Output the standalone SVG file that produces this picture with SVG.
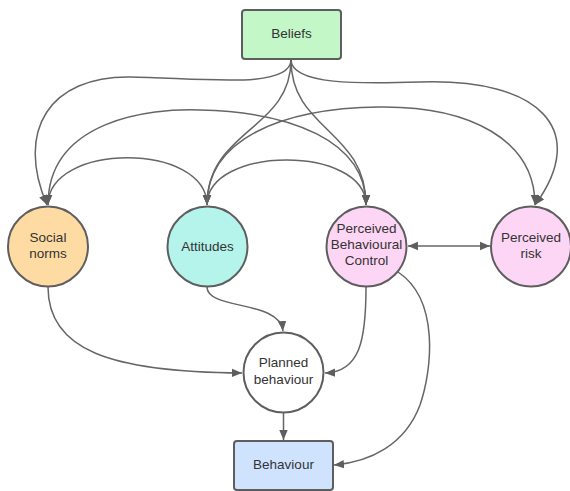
<svg xmlns="http://www.w3.org/2000/svg" width="570" height="491" viewBox="0 0 570 491">
<style>
.node{stroke:#5e5e5e;stroke-width:2}
.lbl{font-family:"Liberation Sans",Arial,sans-serif;font-size:13.5px;fill:#333;text-anchor:middle}
.c{fill:none;stroke:#666;stroke-width:1.5}
</style>
<defs>
<marker id="ah" viewBox="0 0 10 10" refX="10" refY="5" markerWidth="10" markerHeight="10" markerUnits="userSpaceOnUse" orient="auto-start-reverse">
<path d="M0,0.8 L10,5 L0,9.2 z" fill="#5e5e5e"/>
</marker>
</defs>
<rect width="570" height="491" fill="#fff"/>
<g id="connectors">
<path class="c" marker-end="url(#ah)" d="M291,60 C290,90 200,78 130,77 C50,76 15,130 47,205"/>
<path class="c" marker-end="url(#ah)" d="M291,60 C292,85 360,84 420,82 C540,78 590,130 535,205"/>
<path class="c" marker-end="url(#ah)" d="M291,60 C291,130 207,130 207,205"/>
<path class="c" marker-end="url(#ah)" d="M291,60 C291,130 366,130 366,205"/>
<path class="c" marker-start="url(#ah)" marker-end="url(#ah)" d="M48,205 C48,142 207,142 207,205"/>
<path class="c" marker-start="url(#ah)" marker-end="url(#ah)" d="M48,205 C48,120 150,108 200,110 C290,112 366,140 366,205"/>
<path class="c" marker-start="url(#ah)" marker-end="url(#ah)" d="M207,205 C207,145 366,145 366,205"/>
<path class="c" marker-end="url(#ah)" d="M207,205 C207,140 280,108 380,107 C470,106 535,140 535,205"/>
<path class="c" marker-end="url(#ah)" d="M48,287 C48,350 110,372 242,373"/>
<path class="c" marker-end="url(#ah)" d="M207,287 C207,310 280,300 283,331"/>
<path class="c" marker-end="url(#ah)" d="M366,287 C366,340 360,372 325,373"/>
<path class="c" marker-end="url(#ah)" d="M398,272 C440,300 432,370 420,405 C405,445 370,462 334,465"/>
<path class="c" marker-end="url(#ah)" d="M283.5,413 L283.5,440"/>
<path class="c" marker-start="url(#ah)" marker-end="url(#ah)" d="M408,246 L490,246"/>
</g>
<g id="beliefs">
<rect class="node" x="242" y="10" width="99" height="49" rx="3" fill="#c3f7c8"/>
<text class="lbl" x="291.5" y="38">Beliefs</text>
</g>
<g id="social-norms">
<circle class="node" cx="48" cy="246.5" r="40" fill="#ffdba4"/>
<text class="lbl" x="48" y="242">Social</text>
<text class="lbl" x="48" y="258">norms</text>
</g>
<g id="attitudes">
<circle class="node" cx="207.5" cy="246.5" r="40" fill="#b4f4ea"/>
<text class="lbl" x="207.5" y="251">Attitudes</text>
</g>
<g id="pbc">
<circle class="node" cx="366.5" cy="246.5" r="40" fill="#fdd5f5"/>
<text class="lbl" x="366.5" y="233">Perceived</text>
<text class="lbl" x="366.5" y="249">Behavioural</text>
<text class="lbl" x="366.5" y="265">Control</text>
</g>
<g id="perceived-risk">
<circle class="node" cx="531" cy="246.5" r="40" fill="#fdd5f5"/>
<text class="lbl" x="531" y="242">Perceived</text>
<text class="lbl" x="531" y="258">risk</text>
</g>
<g id="planned-behaviour">
<circle class="node" cx="283.5" cy="372.5" r="40" fill="#fff"/>
<text class="lbl" x="283.5" y="367">Planned</text>
<text class="lbl" x="283.5" y="384">behaviour</text>
</g>
<g id="behaviour">
<rect class="node" x="234" y="441" width="99" height="49" rx="3" fill="#cfe3ff"/>
<text class="lbl" x="283.5" y="469">Behaviour</text>
</g>
</svg>
